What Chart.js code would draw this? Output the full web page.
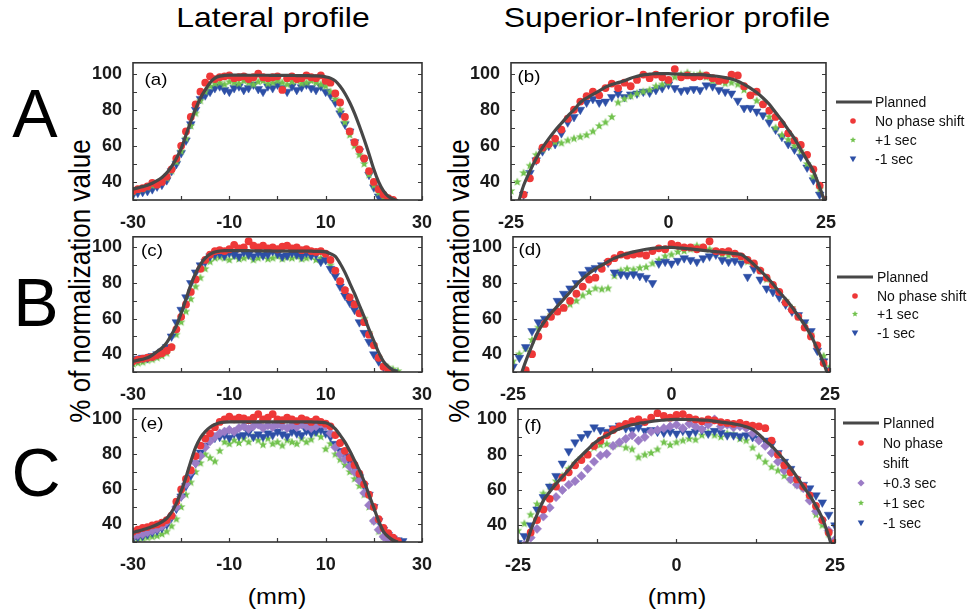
<!DOCTYPE html>
<html><head><meta charset="utf-8">
<style>
html,body{margin:0;padding:0;background:#fff;}
body{width:968px;height:611px;position:relative;overflow:hidden;font-family:"Liberation Sans",Arial,sans-serif;color:#000;}
canvas{position:absolute;}
.t{position:absolute;white-space:nowrap;line-height:1;}
.lgt{position:absolute;white-space:nowrap;line-height:1;font-size:14px;transform:translateY(-50%);color:#111;}
svg{position:absolute;overflow:visible;}
</style>
<script src="https://cdn.jsdelivr.net/npm/chart.js@4.4.1/dist/chart.umd.min.js"></script>
</head><body>
<div class="t" style="left:273px;top:18px;font-size:28px;transform:translate(-50%,-50%) scaleX(1.14);">Lateral profile</div>
<div class="t" style="left:667px;top:18px;font-size:28px;transform:translate(-50%,-50%) scaleX(1.14);">Superior-Inferior profile</div>
<div class="t" style="left:35px;top:113px;font-size:68px;transform:translate(-50%,-50%);">A</div>
<div class="t" style="left:36px;top:302px;font-size:68px;transform:translate(-50%,-50%);">B</div>
<div class="t" style="left:36px;top:472px;font-size:68px;transform:translate(-50%,-50%);">C</div>
<div class="t" style="left:80px;top:281px;font-size:26px;transform:translate(-50%,-50%) rotate(-90deg) scaleY(1.14);">% of normalization value</div>
<div class="t" style="left:459px;top:281px;font-size:26px;transform:translate(-50%,-50%) rotate(-90deg) scaleY(1.14);">% of normalization value</div>
<div class="t" style="left:277px;top:597px;font-size:22px;transform:translate(-50%,-50%) scaleX(1.14);">(mm)</div>
<div class="t" style="left:677px;top:597px;font-size:22px;transform:translate(-50%,-50%) scaleX(1.14);">(mm)</div>
<script>
// ---------- categories (x positions, mm) ----------
const LAT_X = [-30,-29,-28,-27,-26,-25,-24,-23,-22,-21,-20,-19,-18,-17,-16,-15,-14,-13,-12,-11,-10,-9,-8,-7,-6,-5,-4,-3,-2,-1,0,1,2,3,4,5,6,7,8,9,10,11,12,13,14,15,16,17,18,19,20,21,22,23,24,25,26];
const SI_X = [-25,-24,-23,-22,-21,-20,-19,-18,-17,-16,-15,-14,-13,-12,-11,-10,-9,-8,-7,-6,-5,-4,-3,-2,-1,0,1,2,3,4,5,6,7,8,9,10,11,12,13,14,15,16,17,18,19,20,21,22,23,24,25];

// ---------- tick labels ----------
const LAT_TICKS = [-30,-10,10,30];
const SI_TICKS = [-25,0,25];
const Y_TICKS = [40,60,80,100];

// ---------- panel (a) lateral, row A ----------
const A_PLANNED = [36,36.7,37.4,38.2,39.3,40.7,42.5,45,48.5,53, 58.5,66,73.5,80.5,86.5,91,95,97.5,98.6,99, 99.2,99.2,99.2,99.2,99.1,99.1,99.1,99.1,99.1,99, 99,99,99,99,98.9,98.9,98.9,98.8,98.8,98.6, 98.2,97.5,96,93,89,84,78,71,63.5,55.5, 47,40,35,32,30.5,29.5,null];
const A_NOSHIFT = [35,36,36.5,37.5,39.5,38.5,40,43,47,53, 60,68,76,83,90,95,98.5,97,98,98.5, 99,97.5,98,98.5,97,98,100,98,97.5,98, 98.5,91,97.5,98.5,97,97.5,99,98,97.5,99, 96,95,89,84,76,68,62,58,53,46, 40,36,33,31,30,null,null];
const A_PLUS1 = [34.5,35.5,36,37,38,39,40.5,42,46,51, 57,64,71,78,85,90,93,94.5,95,94, 95.5,95,94.5,96,95,94,95.5,96,94.5,95, 96,95,94,95.5,96,94.5,95,96,95,94, 93,90,86,80,73,66,60,55,50,44, 38,34,31.5,30.5,null,null,null];
const A_MINUS1 = [33,34,34.5,35,36,37.5,38.5,41,46,50, 56,63,72,80,86,88,90,92,93,91, 90,92,93,91,92,94,91.5,90,93,92, 94,92,90,93,91,92.5,94,92,91,93, 90,88,84,78,72,68,62,57,52,44, 37,32,30,null,null,null,null];

// ---------- panel (b) superior-inferior, row A ----------
const B_PLANNED = [20,27,38,46,53,59,64,68.5,72.5,76.5, 80,84,86.5,88.5,90.5,92.5,94,95,96,97.5, 98.5,99.3,99.7,100,100, 100,99.8,99.7,99.5,99.5,99.5,99.2,98.8,98.4,97.8, 97,95.8,94,92,89.5,86.5,83,78.5,74,69, 64,58,52,46,37,27];
const B_NOSHIFT = [null,28,33,42,52,59,61,64,69,75, 80,84.5,87.5,90,88,92,94.5,92,95,93, 96.5,99.5,97.5,99.5,98, 96.5,102.5,98,99,98,98.5,99,97.5,96,96.5, 99.5,99,93,88,90,83,79.5,76,72,67, 63,60.5,55,47,38,30];
const B_PLUS1 = [35,40,45,49,55,58,60,62,61.5,63, 64,65,66,68,71,73,76,84,86,87.5, 89,90,91,93,94, 95,98,99.5,100.5,99,100,98,96,95.5,94.5, 95,94,91,88,85,83,76,70,66,63.5, 60,57,50,43,36,30];
const B_MINUS1 = [null,28,33,45,52,57,60,61,67,73, 76,80,84,86,84,84.5,87,89,87,88.5, 89,90,89.5,91,92, 94,92,90.5,91,91.5,91,93.5,93,91,90, 89,85,81,81,79,77,73,69,65,61, 58,54,48,41,33,null];

// ---------- panel (c) lateral, row B ----------
const C_PLANNED = [36,36.6,37.2,38,39.5,41.5,43.5,46.5,51,56, 63,71,79,85.5,90.5,94,96.3,97.5,98,98.2, 98.2,98.2,98.2,98.2,98.2,98.1,98.1,98.1,98.1,98, 98,98,98,98,98,97.9,97.9,97.9,97.8,97.8, 97.5,96.5,95,91,86,80,74,67.5,61,54, 47.5,41,36,33,31,30,null];
const C_NOSHIFT = [36,37,37.5,38,38.5,39.5,40.5,42,44,54, 61,68,75,82,88,93,96,98,98.5,98, 99,101.5,99.5,100,103.5,101,100,101,99.5,100, 99,100.5,101,99.5,100,98.5,99,98,97.5,98, 96.5,93,87,81,76,72,68,63,58,51, 45,38,33,30.5,null,null,null];
const C_PLUS1 = [34.5,35,35.5,36.5,37,38,39,40.5,44,51, 58,64,71,78,83,88,92,94,94.5,94, 93,95,93.5,94,95,93,94,95.5,93.5,94, 95,93.5,94.5,94,95,93.5,94,95,93,94, 93,90,86,81,76,72,68,64,60,52, 45,38,34,32.5,31.5,30.5,null];
const C_MINUS1 = [36,37.5,38,38,39,40,41.5,44,50,58, 65,72,80,86,90,92,95,96,96.5,95.5, 97,96,95,97.5,96,95,97,95.5,96,98, 96.5,95,95.5,97,96,95,97,95.5,96,92, 93,88,84,78,73,69,65,58,52,47, 40,36,33,31,30,null,null];

// ---------- panel (d) superior-inferior, row B ----------
const D_PLANNED = [18,26,36,45,53,58.5,63,67,71,75, 79,82.5,85.5,88,90,92,94,95.3,96.5,97.5, 98.3,99,99.5,99.8,100, 100,99.8,99.5,99.2,98.8,98.4,98,97.7,97.3,97, 96.5,96,93.5,90.5,87,83.5,79.5,75,71,66.5, 61.5,56.5,50.5,43,35,25];
const D_NOSHIFT = [null,null,31,40,50,57,61,64,66,70, 74,78,82,83,88,92,94,96,95.5,96, 96.5,95.5,98,99.5,99, 102,101,100,100,99,100,103.5,98,97.5,98, 96.5,95,93,91,87,83,79,75,69,65, 61,55,50,45,35,30];
const D_PLUS1 = [36,40,43,48,55,59,62,64,66,68, 70,73,75,77,76.5,77,84,87,88,87.5, 88.5,89,91,93,95, 96,97.5,98,99,101,100,99,97,96,95.5, 96,94,92,90,87,82,78,74,70,66, 61,57,51,45,39,33];
const D_MINUS1 = [33,38,44,53,58,60,64,70,74,77, 80,85,87.5,88.5,90,91.5,86,85,84.5,85, 84,83,80,91,92, 91,92.5,94,93,92,94,95,96,93,92, 92.5,91,83.5,88,82,77,75,72,68,64, 62,58,53,42,36,31];

// ---------- panel (e) lateral, row C ----------
const E_PLANNED = [35.5,36.2,37,37.8,38.8,40,41.5,43.5,47,52, 59,67,76,84,89.5,93,95.5,97,98,98.4, 98.5,98.5,98.5,98.5,98.5,98.5,98.5,98.5,98.5,98.5, 98.5,98.5,98.5,98.5,98.5,98.5,98.5,98.5,98.4,98.3, 98,96.8,94.5,91,87,82,76.5,71,64.5,57, 49.5,42,36,33,31,30,null];
const E_NOSHIFT = [36,37,38,38.5,39.5,40,41,42.5,45,53, 60,66,71,79,85,89,92,95.5,98.5,100, 101.5,100,101,100.5,99.5,101,103,100,101,103, 100,99.5,101,100,99,100.5,99.5,98.5,100,98.5, 97.5,96,91,86.5,82,78,74,69,63,57, 50,43,38,35,32.5,30.5,null];
const E_PLUS03 = [33,34,34.5,35.5,36.5,37.5,39,41.5,45,50, 56,63,70,75,79,84,87.5,90,92,93, 94,93,95,96,94.5,96,97,95,96.5,95.5, 97,96,95,96.5,95.5,97,96,95,96,97.5, 96,92,84,80,77,73,70,65,58,51, 42,37,33,31,null,null,null];
const E_PLUS1 = [31,31.5,32,32.5,33,33.5,34.5,36,39,43, 50,57,64,70,75,80,78,76,82,87, 86,88,86.5,89,87,90,88,85.5,89,86, 87,85,88,87,86,89,87,88.5,92,90, 83,86,80,77,74,70,66,62,57,50, 42,36,33,31,null,null,null];
const E_MINUS1 = [32,33,33.5,34.5,35.5,36.5,38,40,44,49, 56,62,68,75,81,85,88,89.5,90,91, 89.5,92,90.5,91,92.5,90,91.5,90,92,91, 93,91.5,90.5,93,92,91,93.5,92,93,94, 92,90,86,82,79,76,72,67,62,57, 50,42,37,34,32,31,30.5];

// ---------- panel (f) superior-inferior, row C ----------
const F_PLANNED = [16,26,37,46,54,59,63.5,67.5,71.5,76, 79.5,83,86.5,89,91,93,94.7,96,97,97.7, 98.2,98.8,99.3,99.6,99.9, 100,100,99.9,99.8,99.6,99.5,99,98.5,98,97.5, 96.8,95.8,94.3,91.5,88,85,81,77,72.5,67.5, 62,57,51,44,34,22];
const F_NOSHIFT = [null,28,36,43,49,55,62,67,70,74, 77,80,85,88,91,94,96,97.5,99,100, 98.5,101,103.5,102,101, 102.5,103,101,100,99,100,99.5,98.5,98,97.5, 98,97,96.5,96,95,88,80,74,70,66, 62,57,51,43,36,30];
const F_PLUS03 = [null,29,33,38,45,50,56,60,63,65, 68,72,76,79.5,80.5,85,87,89,91,88, 90,93,94,95,96, 97,95,97.5,96,94.5,97,100,96,97,95.5, 96,95,92,88,85,81,76,71,66,63, 61,54,48,43,37,32];
const F_PLUS1 = [37,41,46,52,58,62,65,68,72,75, 78,81,84,85.5,86,85,86,84,83,78.5, 80,81,83,87,85.5, 87,88,89,88.5,91,92.5,91,90,92,91.5, 89,88,84,79,76,73,71,68,66,63, 61,55,46,40,35,31];
const F_MINUS1 = [30,34,40,49,56,62,68,75,82,87, 90,92,95.5,94,93,95,96.5,95,94,95.5, 93.5,94,93,92.5,93, 92,93.5,92,93,94,92,93.5,92.5,91,91, 90.5,91,90,89,88,86,81,76,72,66, 63,61,57,53,46,40];

// ---------- styles ----------
const COL = {planned:'#474747', red:'#ee3838', green:'#72c24e', blue:'#2d4fa6', purple:'#9b7cc6'};

function starImg(color, R, r){
  const s = Math.ceil(R*2)+2;
  const c = document.createElement('canvas'); c.width = s; c.height = s;
  const g = c.getContext('2d'); g.fillStyle = color; g.beginPath();
  for(let i=0;i<10;i++){ const rad = i%2 ? r : R; const a = -Math.PI/2 + i*Math.PI/5; g.lineTo(s/2+rad*Math.cos(a), s/2+rad*Math.sin(a)); }
  g.closePath(); g.fill(); return c;
}
const STAR = starImg(COL.green, 4.6, 2.0);

function pts(xs, ys){ const out=[]; for(let i=0;i<xs.length;i++){ const y=ys[i]; if(y!==null && y!==undefined) out.push({x:xs[i], y:y}); } return out; }

function dsPlanned(xs, ys){ return {data:pts(xs,ys), showLine:true, borderColor:COL.planned, borderWidth:3.2, pointRadius:0, cubicInterpolationMode:'monotone', fill:false}; }
function dsRed(xs, ys){ return {data:pts(xs,ys), pointStyle:'circle', pointRadius:3.9, backgroundColor:COL.red, borderColor:COL.red, borderWidth:0}; }
function dsGreen(xs, ys){ return {data:pts(xs,ys), pointStyle:STAR, pointRadius:4.6, backgroundColor:COL.green, borderColor:COL.green}; }
function dsBlue(xs, ys){ return {data:pts(xs,ys), pointStyle:'triangle', pointRotation:180, pointRadius:5, backgroundColor:COL.blue, borderColor:COL.blue, borderWidth:0.5}; }
function dsPurple(xs, ys){ return {data:pts(xs,ys), pointStyle:'rectRot', pointRadius:4.6, backgroundColor:COL.purple, borderColor:COL.purple, borderWidth:0.5}; }

const framePlugin = {
  id:'frame',
  afterDatasetsDraw(chart, args, opts){
    const {ctx, chartArea:a, scales} = chart; const x = scales.x, y = scales.y;
    ctx.save(); ctx.strokeStyle = '#3a3a3a'; ctx.lineWidth = 1.2;
    ctx.beginPath();
    (opts.yt||[]).forEach(v=>{ const py = Math.round(y.getPixelForValue(v))+0.5; ctx.moveTo(a.left, py); ctx.lineTo(a.left+4, py); ctx.moveTo(a.right, py); ctx.lineTo(a.right-4, py); });
    (opts.xt||[]).forEach(v=>{ const px = Math.round(x.getPixelForValue(v))+0.5; ctx.moveTo(px, a.bottom); ctx.lineTo(px, a.bottom-4); });
    ctx.stroke();
    ctx.lineWidth = 1.6; ctx.strokeStyle = '#333';
    ctx.strokeRect(a.left, a.top, a.right-a.left, a.bottom-a.top);
    ctx.restore();
  }
};

const TICK_FONT = {family:'"Liberation Sans", Arial, sans-serif', size:18, weight:'bold'};

function panel(box, datasets, xTicks, xMin, xMax, xMinor, tag){
  const YW = 48, PT = 10, PR = 12, XH = 28;
  const cv = document.createElement('canvas');
  const w = (box.R - box.L) + YW + PR, h = (box.B - box.T) + PT + XH;
  cv.width = w; cv.height = h;
  cv.style.left = (box.L - YW) + 'px'; cv.style.top = (box.T - PT) + 'px';
  cv.style.width = w + 'px'; cv.style.height = h + 'px';
  document.body.appendChild(cv);
  new Chart(cv, {
    type:'scatter',
    data:{datasets:datasets},
    options:{
      responsive:false, animation:false, events:[], devicePixelRatio:1,
      layout:{padding:{top:PT, right:PR, left:0, bottom:0}},
      plugins:{legend:{display:false}, tooltip:{enabled:false}, frame:{xt:xMinor, yt:[30,40,50,60,70,80,90,100]}},
      scales:{
        x:{type:'linear', min:xMin, max:xMax, grid:{display:false}, border:{display:false},
           ticks:{font:TICK_FONT, color:'#1a1a1a', padding:4, maxRotation:0, autoSkip:false},
           afterBuildTicks:s=>{ s.ticks = xTicks.map(v=>({value:v})); },
           afterFit:s=>{ s.height = XH; }},
        y:{type:'linear', min:30, max:106, grid:{display:false}, border:{display:false},
           ticks:{font:TICK_FONT, color:'#1a1a1a', padding:3, autoSkip:false},
           afterBuildTicks:s=>{ s.ticks = Y_TICKS.map(v=>({value:v})); },
           afterFit:s=>{ s.width = YW; }}
      }
    },
    plugins:[framePlugin]
  });
  const d=document.createElement('div'); d.className='t'; d.textContent=tag[0];
  d.style.left=tag[1]+'px'; d.style.top=tag[2]+'px'; d.style.fontSize='17px';
  d.style.transform='translate(-50%,-50%) scaleX(1.1)'; document.body.appendChild(d);
}

const LAT_MINOR = [-30,-20,-10,0,10,20,30];
const SI_MINOR = [-25,-12.5,0,12.5,25];

panel({L:133,R:424,T:59,B:200}, [dsPlanned(LAT_X,A_PLANNED), dsRed(LAT_X,A_NOSHIFT), dsGreen(LAT_X,A_PLUS1), dsBlue(LAT_X,A_MINUS1)], LAT_TICKS, -30, 30, LAT_MINOR, ['(a)',156,79]);
panel({L:511,R:828,T:59,B:200}, [dsPlanned(SI_X,B_PLANNED), dsRed(SI_X,B_NOSHIFT), dsGreen(SI_X,B_PLUS1), dsBlue(SI_X,B_MINUS1)], SI_TICKS, -25, 25, SI_MINOR, ['(b)',529,76]);
panel({L:133,R:424,T:233,B:372}, [dsPlanned(LAT_X,C_PLANNED), dsRed(LAT_X,C_NOSHIFT), dsBlue(LAT_X,C_MINUS1), dsGreen(LAT_X,C_PLUS1)], LAT_TICKS, -30, 30, LAT_MINOR, ['(c)',152,250]);
panel({L:513,R:832,T:233,B:372}, [dsPlanned(SI_X,D_PLANNED), dsRed(SI_X,D_NOSHIFT), dsBlue(SI_X,D_MINUS1), dsGreen(SI_X,D_PLUS1)], SI_TICKS, -25, 25, SI_MINOR, ['(d)',530,249]);
panel({L:133,R:424,T:405,B:542}, [dsPlanned(LAT_X,E_PLANNED), dsRed(LAT_X,E_NOSHIFT), dsPurple(LAT_X,E_PLUS03), dsBlue(LAT_X,E_MINUS1), dsGreen(LAT_X,E_PLUS1)], LAT_TICKS, -30, 30, LAT_MINOR, ['(e)',152,423]);
panel({L:518,R:837,T:405,B:543}, [dsPlanned(SI_X,F_PLANNED), dsRed(SI_X,F_NOSHIFT), dsPurple(SI_X,F_PLUS03), dsBlue(SI_X,F_MINUS1), dsGreen(SI_X,F_PLUS1)], SI_TICKS, -25, 25, SI_MINOR, ['(f)',533,425]);

// ---------- legends ----------
const LEG_AB = [['line','Planned'],['circle','No phase shift'],['star','+1 sec'],['tri','-1 sec']];
const LEG_C = [['line','Planned'],['circle','No phase'],[null,'shift'],['diamond','+0.3 sec'],['star','+1 sec'],['tri','-1 sec']];
function marker(kind){
  if(kind==='line') return '<line x1="-18" y1="0" x2="18" y2="0" stroke="'+COL.planned+'" stroke-width="3"/>';
  if(kind==='circle') return '<circle cx="0" cy="0" r="2.8" fill="'+COL.red+'"/>';
  if(kind==='star'){ let p=[]; for(let i=0;i<10;i++){ const rad=i%2?1.4:3.2; const a=-Math.PI/2+i*Math.PI/5; p.push((rad*Math.cos(a)).toFixed(2)+','+(rad*Math.sin(a)).toFixed(2)); } return '<polygon points="'+p.join(' ')+'" fill="'+COL.green+'"/>'; }
  if(kind==='tri') return '<polygon points="-3.3,-2.5 3.3,-2.5 0,3.2" fill="'+COL.blue+'"/>';
  if(kind==='diamond') return '<polygon points="0,-3.6 3.6,0 0,3.6 -3.6,0" fill="'+COL.purple+'"/>';
  return '';
}
function legend(items, ys, markX, lineX, textX){
  items.forEach(([kind,label],i)=>{
    const y = ys[i];
    if(kind){ const cx = kind==='line' ? lineX : markX;
      const s = document.createElementNS('http://www.w3.org/2000/svg','svg');
      s.setAttribute('width','1'); s.setAttribute('height','1');
      s.style.left = cx+'px'; s.style.top = y+'px';
      s.innerHTML = marker(kind); document.body.appendChild(s); }
    const d = document.createElement('div'); d.className='lgt'; d.textContent = label;
    d.style.left = textX+'px'; d.style.top = y+'px'; document.body.appendChild(d);
  });
}
legend(LEG_AB, [102,121,140,159], 853, 854, 875);
legend(LEG_AB, [277,296,314,333], 855, 855, 877);
legend(LEG_C, [423,443,463,483,503,523], 861, 861, 883);
</script>
</body></html>
